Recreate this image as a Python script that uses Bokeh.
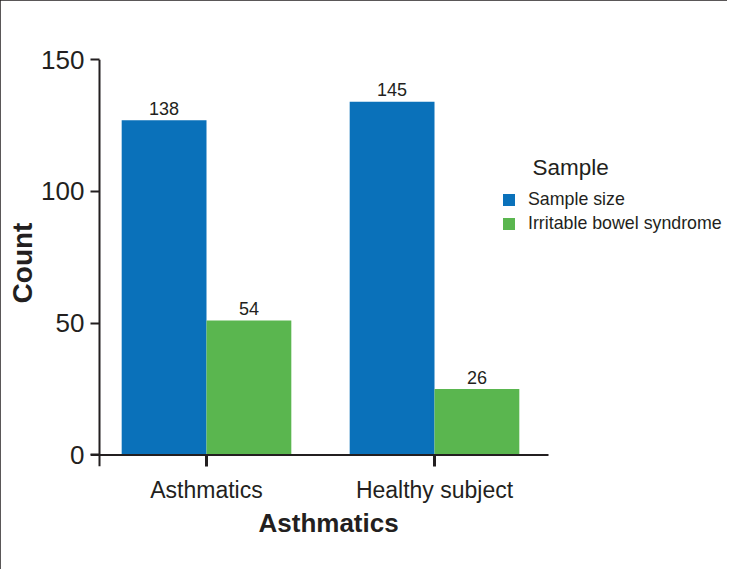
from bokeh.plotting import figure
from bokeh.models import (Range1d, ColumnDataSource, Span, Legend, LegendItem,
                          Label, FixedTicker, Title)
from bokeh.transform import dodge
from bokeh.core.properties import value
from bokeh.embed import file_html
from bokeh.resources import INLINE

# ---- data ----
groups = ["Asthmatics", "Healthy subject"]
series = ["Sample size", "Irritable bowel syndrome"]
sample_size_bar = [127, 134]          # bar heights on the Count axis
ibs_bar = [51, 25]
sample_size_label = ["138", "145"]    # printed value labels
ibs_label = ["54", "26"]
y_ticks = [0, 50, 100, 150]
colors = ["#0a71ba", "#5ab64f"]
ink = "#231f20"
FONT = "Liberation Sans"

idx = list(range(len(groups)))
src = ColumnDataSource(dict(xi=idx, size=sample_size_bar, ibs=ibs_bar,
                            size_lbl=sample_size_label, ibs_lbl=ibs_label))

# layout: 228 px per category, first category centre 116 px from frame left
PX = 228.0
x_start = -116 / PX
x_end = x_start + 634 / PX

p = figure(width=727, height=569,
           x_range=Range1d(x_start, x_end),
           y_range=Range1d(-4.4, 150),
           output_backend="svg", toolbar_location=None,
           min_border_left=90, min_border_right=3,
           min_border_top=59, min_border_bottom=103)
p.outline_line_color = None
p.grid.visible = False
p.background_fill_color = "white"
p.border_fill_color = "white"

off, w = 0.186, 0.372
r1 = p.vbar(x=dodge("xi", -off), top="size", width=w,
            source=src, fill_color=colors[0], line_color=None)
r2 = p.vbar(x=dodge("xi", off), top="ibs", width=w,
            source=src, fill_color=colors[1], line_color=None)

for xo, col in [(-off, "size"), (off, "ibs")]:
    p.text(x=dodge("xi", xo), y=col, text=col + "_lbl",
           source=src, text_align="center", text_baseline="alphabetic",
           y_offset=-12, text_font=value(FONT), text_font_size="18px",
           text_color=ink)

# axis lines
p.segment(x0=[x_start], y0=[0], x1=[len(groups) - 0.5], y1=[0],
          line_color=ink, line_width=2)
p.add_layout(Span(location=x_start + 9 / PX, dimension="height",
                  line_color=ink, line_width=2))

xa = p.xaxis[0]
xa.ticker = FixedTicker(ticks=idx)
xa.major_label_overrides = {i: g for i, g in zip(idx, groups)}
xa.minor_tick_line_color = None
xa.axis_line_color = None
xa.major_tick_in = 11
xa.major_tick_out = 0
xa.major_tick_line_width = 3
xa.major_tick_line_color = ink
xa.major_label_text_font = FONT
xa.major_label_text_font_size = "23px"
xa.major_label_text_color = ink
xa.major_label_standoff = 10

ya = p.yaxis[0]
ya.ticker = FixedTicker(ticks=y_ticks)
ya.axis_line_color = None
ya.major_tick_in = 9
ya.major_tick_out = 0
ya.major_tick_line_width = 2
ya.major_tick_line_color = ink
ya.minor_tick_line_color = None
ya.major_label_text_font = FONT
ya.major_label_text_font_size = "26px"
ya.major_label_text_color = ink
ya.major_label_standoff = 6
ya.axis_label = "Count"
ya.axis_label_text_font = FONT
ya.axis_label_text_font_style = "bold"
ya.axis_label_text_font_size = "28px"
ya.axis_label_text_color = ink
ya.axis_label_standoff = 0

p.add_layout(Title(text="Asthmatics", align="left", offset=168,
                   text_font=FONT, text_font_style="bold",
                   text_font_size="26px", text_color=ink, standoff=0), "below")

legend = Legend(items=[LegendItem(label=series[0], renderers=[r1]),
                       LegendItem(label=series[1], renderers=[r2])],
                location=(411, 232), glyph_width=15, glyph_height=15,
                label_height=20, label_standoff=12, spacing=3, padding=0,
                margin=0, border_line_color=None, background_fill_alpha=0,
                label_text_font=FONT, label_text_font_size="17.8px",
                label_text_color=ink)
p.add_layout(legend, "center")

p.add_layout(Label(x=442, y=299, x_units="screen", y_units="screen",
                   text="Sample", text_font=FONT, text_font_size="22.5px",
                   text_baseline="alphabetic", text_color=ink))

p.styles = {"outline": "2px solid #231f20", "outline-offset": "-2px"}

open("out.html", "w").write(file_html(p, INLINE))
